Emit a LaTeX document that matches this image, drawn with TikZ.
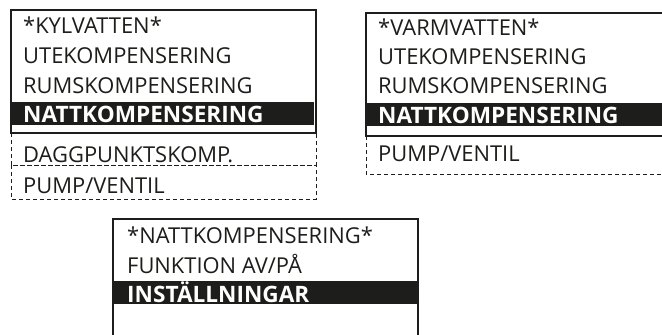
\documentclass[tikz,border=0pt]{standalone}
\usepackage{fontspec}
\setmainfont{Open Sans}
\definecolor{ink}{HTML}{1D1D1B}
\begin{document}
\begin{tikzpicture}[x=1pt,y=-1pt,
  frame/.style={draw=ink,line width=2pt},
  dframe/.style={draw=ink,line width=0.9pt,dash pattern=on 4pt off 3pt},
  bar/.style={fill=ink},
  item/.style={anchor=base west,inner sep=0pt,text=ink,font=\fontsize{21.9}{26}\selectfont},
  sel/.style={anchor=base west,inner sep=0pt,text=white,font=\fontsize{22.6}{26}\selectfont\bfseries}]
\useasboundingbox (0,0) rectangle (662,335);
\clip (0,0) rectangle (662,335);
% box 1
\draw[dframe] (11,133) rectangle (316,165);
\draw[dframe] (11,165) rectangle (316,199);
\fill[white] (11,10) rectangle (316,133);
\draw[frame] (11,10) rectangle (316,133);
\fill[bar] (10,102) rectangle (314,125);
\node[item] (k1) at (23,33) {*KYLVATTEN*};
\node[item] (k2) at (23,63) {UTEKOMPENSERING};
\node[item] (k3) at (23,93) {RUMSKOMPENSERING};
\node[sel]  (k4) at (23,122) {NATTKOMPENSERING};
\node[item] (k5) at (23,162) {DAGGPUNKTSKOMP.};
\node[item] (k6) at (23,193) {PUMP/VENTIL};
% box 2
\draw[dframe] (366,136) rectangle (670,174);
\fill[white] (366,13) rectangle (670,136);
\draw[frame] (366,13) rectangle (670,136);
\fill[bar] (366,103) rectangle (670,126);
\node[item] (v1) at (378,35) {*VARMVATTEN*};
\node[item] (v2) at (378,64) {UTEKOMPENSERING};
\node[item] (v3) at (378,93) {RUMSKOMPENSERING};
\node[sel]  (v4) at (378,123) {NATTKOMPENSERING};
\node[item] (v5) at (378,161) {PUMP/VENTIL};
% box 3
\draw[frame] (113,219) rectangle (418,345);
\fill[bar] (113,281) rectangle (418,304);
\node[item] (n1) at (127,243) {*NATTKOMPENSERING*};
\node[item] (n2) at (127,273) {FUNKTION AV/PÅ};
\node[sel]  (n3) at (127,302) {INSTÄLLNINGAR};
\end{tikzpicture}
\end{document}
